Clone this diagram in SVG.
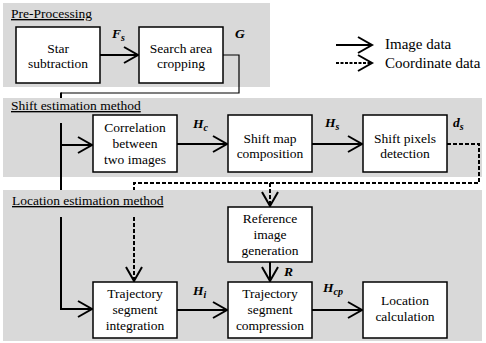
<svg xmlns="http://www.w3.org/2000/svg" width="486" height="343" viewBox="0 0 486 343" font-family="Liberation Serif, Times New Roman, serif">
<style>
.panel{fill:#d9d9d9;}
.box{fill:#fff;stroke:#000;stroke-width:1.5;}
.t{font-size:13.5px;fill:#000;text-anchor:middle;}
.pl{font-size:13.5px;fill:#000;text-decoration:underline;}
.m{font-size:13.5px;font-weight:bold;font-style:italic;fill:#000;}
.sub{font-size:10px;}
.lg{font-size:15px;fill:#000;}
.ln{fill:none;stroke:#000;stroke-width:2;}
.thin{fill:none;stroke:#000;stroke-width:1.2;}
.dash{fill:none;stroke:#000;stroke-width:2;stroke-dasharray:4 2;}
</style>
<defs>
<marker id="ah" markerUnits="userSpaceOnUse" markerWidth="18" markerHeight="20" refX="15" refY="9" orient="auto">
<path d="M1,1 L15,9 L1,17" fill="none" stroke="#000" stroke-width="2" stroke-dasharray="none"/>
</marker>
</defs>
<g id="panels">
<rect class="panel" x="3" y="3" width="267" height="84"/>
<rect class="panel" x="3" y="98" width="479" height="79"/>
<rect class="panel" x="3" y="190" width="479" height="151"/>
</g>
<g id="connectors">
<path class="thin" d="M223,55 H239 V93 H61"/>
<path class="ln" d="M61,92.4 V309 H92" marker-end="url(#ah)"/>
<path class="ln" d="M61,145 H92" marker-end="url(#ah)"/>
<path class="ln" d="M100,55 H138" marker-end="url(#ah)"/>
<path class="ln" d="M177,144 H227" marker-end="url(#ah)"/>
<path class="ln" d="M312,144 H362" marker-end="url(#ah)"/>
<path class="dash" d="M447,144 H479 V183 H134 V281" marker-end="url(#ah)"/>
<path class="dash" d="M270,183 V206" marker-end="url(#ah)"/>
<path class="ln" d="M270,262 V281" marker-end="url(#ah)"/>
<path class="ln" d="M177,310 H227" marker-end="url(#ah)"/>
<path class="ln" d="M312,310 H362" marker-end="url(#ah)"/>
</g>
<g id="panel-labels" font-family="Liberation Serif, serif">
<text class="pl" x="11" y="18" font-family="Liberation Serif, serif">Pre-Processing</text>
<rect class="panel" x="8" y="98" width="140" height="25"/>
<text class="pl" x="11" y="110" font-family="Liberation Serif, serif">Shift estimation method</text>
<rect class="panel" x="8" y="190" width="160" height="27"/>
<text class="pl" x="12" y="205" font-family="Liberation Serif, serif">Location estimation method</text>
</g>
<g id="star-subtraction" font-family="Liberation Serif, serif">
<rect class="box" x="16" y="27" width="84" height="56"/>
<text class="t" x="58" y="53">Star</text>
<text class="t" x="58" y="68">subtraction</text>
</g>
<g id="search-area-cropping" font-family="Liberation Serif, serif">
<rect class="box" x="139" y="27" width="84" height="56"/>
<text class="t" x="181" y="53">Search area</text>
<text class="t" x="181" y="68">cropping</text>
</g>
<g id="correlation" font-family="Liberation Serif, serif">
<rect class="box" x="93" y="115" width="84" height="57"/>
<text class="t" x="135" y="132">Correlation</text>
<text class="t" x="135" y="148">between</text>
<text class="t" x="135" y="164">two images</text>
</g>
<g id="shift-map-composition" font-family="Liberation Serif, serif">
<rect class="box" x="228" y="115" width="84" height="57"/>
<text class="t" x="270" y="143">Shift map</text>
<text class="t" x="270" y="158">composition</text>
</g>
<g id="shift-pixels-detection" font-family="Liberation Serif, serif">
<rect class="box" x="363" y="115" width="84" height="57"/>
<text class="t" x="405" y="143">Shift pixels</text>
<text class="t" x="405" y="158">detection</text>
</g>
<g id="reference-image-generation" font-family="Liberation Serif, serif">
<rect class="box" x="228" y="207" width="84" height="55"/>
<text class="t" x="270" y="223">Reference</text>
<text class="t" x="270" y="239">image</text>
<text class="t" x="270" y="255">generation</text>
</g>
<g id="trajectory-segment-integration" font-family="Liberation Serif, serif">
<rect class="box" x="93" y="282" width="84" height="56"/>
<text class="t" x="135" y="298">Trajectory</text>
<text class="t" x="135" y="314">segment</text>
<text class="t" x="135" y="330">integration</text>
</g>
<g id="trajectory-segment-compression" font-family="Liberation Serif, serif">
<rect class="box" x="228" y="282" width="84" height="56"/>
<text class="t" x="270" y="298">Trajectory</text>
<text class="t" x="270" y="314">segment</text>
<text class="t" x="270" y="330">compression</text>
</g>
<g id="location-calculation" font-family="Liberation Serif, serif">
<rect class="box" x="363" y="282" width="84" height="56"/>
<text class="t" x="405" y="305">Location</text>
<text class="t" x="405" y="321">calculation</text>
</g>
<g id="edge-labels" font-family="Liberation Serif, serif">
<text class="m" x="112" y="38">F<tspan class="sub" dy="3">s</tspan></text>
<text class="m" x="235" y="38">G</text>
<text class="m" x="193" y="128">H<tspan class="sub" dy="3">c</tspan></text>
<text class="m" x="325" y="127">H<tspan class="sub" dy="3">s</tspan></text>
<text class="m" x="453" y="127">d<tspan class="sub" dy="3">s</tspan></text>
<text class="m" x="284" y="276">R</text>
<text class="m" x="193" y="295">H<tspan class="sub" dy="3">i</tspan></text>
<text class="m" x="323" y="292">H<tspan class="sub" dy="3">cp</tspan></text>
</g>
<g id="legend" font-family="Liberation Serif, serif">
<path class="ln" d="M336,45 H372" marker-end="url(#ah)"/>
<path d="M336,63 H372" fill="none" stroke="#000" stroke-width="2" stroke-dasharray="3 1.5" marker-end="url(#ah)"/>
<text class="lg" x="385" y="49">Image data</text>
<text class="lg" x="385" y="68">Coordinate data</text>
</g>
</svg>
